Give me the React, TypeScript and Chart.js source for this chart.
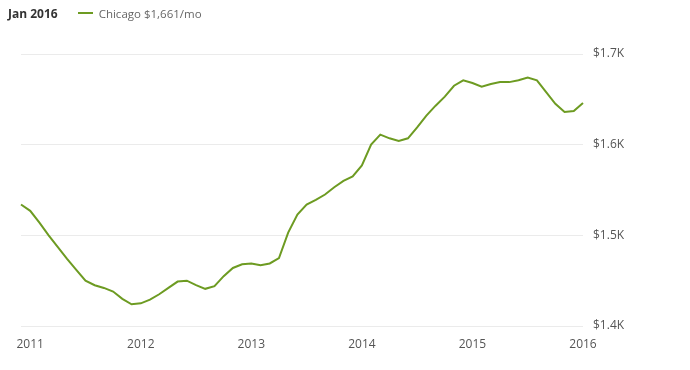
import React, { useEffect, useRef } from "react";
import { Chart, registerables } from "chart.js";

Chart.register(...registerables);

// Monthly median rent, Chicago, Dec 2010 .. Jan 2016 (USD)
const rentValues: number[] = [
  1534, 1527, 1514, 1500, 1487, 1474, 1462, 1450, 1445, 1442, 1438, 1430,
  1424, 1425, 1429, 1435, 1442, 1449, 1450, 1445, 1441, 1444, 1455, 1464,
  1468, 1469, 1467, 1469, 1475, 1503, 1523, 1534, 1539, 1545, 1553, 1560,
  1565, 1577, 1600, 1611, 1607, 1604, 1607, 1619, 1632, 1643, 1653, 1665,
  1671, 1668, 1664, 1667, 1669, 1669, 1671, 1674, 1671, 1658, 1645, 1636,
  1637, 1646,
];
const startYear = 2010;
const startMonth = 11; // December (0-based)
const monthLabels: string[] = rentValues.map((_, i) => {
  const m = (startMonth + i) % 12;
  const y = startYear + Math.floor((startMonth + i) / 12);
  return `${y}-${String(m + 1).padStart(2, "0")}`;
});
const yTicks: number[] = [1400, 1500, 1600, 1700];
const headerDate = "Jan 2016";
const seriesName = "Chicago";
const seriesLabel = "$1,661/mo";

const GREEN = "#6d9b22";
const FONT = "'Open Sans', 'Noto Sans', sans-serif";

export default function App() {
  const ref = useRef<HTMLCanvasElement | null>(null);

  useEffect(() => {
    document.body.style.margin = "0";
    const canvas = ref.current;
    if (!canvas) return;
    const chart = new Chart(canvas, {
      type: "line",
      data: {
        labels: monthLabels,
        datasets: [
          {
            label: seriesName,
            data: rentValues,
            borderColor: GREEN,
            backgroundColor: GREEN,
            borderWidth: 2,
            pointRadius: 0,
            tension: 0,
            fill: false,
            clip: false as any,
          },
        ],
      },
      options: {
        animation: false,
        responsive: false,
        maintainAspectRatio: false,
        layout: { padding: { top: 54, left: 21, right: 0, bottom: 0 } },
        plugins: {
          legend: { display: false },
          tooltip: { enabled: false },
        },
        scales: {
          x: {
            type: "category",
            offset: false,
            grid: { display: false, drawTicks: false },
            border: { display: false },
            afterFit: (s: any) => {
              s.height = 44;
            },
            ticks: {
              autoSkip: false,
              maxRotation: 0,
              minRotation: 0,
              padding: 11,
              color: "#555",
              font: { family: FONT, size: 12 },
              callback: (_v: any, i: number) => {
                const lab = monthLabels[i];
                return lab.endsWith("-01") ? lab.slice(0, 4) : "";
              },
            },
          },
          y: {
            position: "right",
            min: 1400,
            max: 1700,
            afterBuildTicks: (s: any) => {
              s.ticks = yTicks.map((v) => ({ value: v }));
            },
            afterFit: (s: any) => {
              s.width = 107;
            },
            grid: { color: "#ebebeb", drawTicks: false, lineWidth: 1 },
            border: { display: false },
            ticks: {
              padding: 10,
              color: "#555",
              font: { family: FONT, size: 12 },
              callback: (v: any) => `$${(Number(v) / 1000).toFixed(1)}K`,
            },
          },
        },
      },
    });
    return () => chart.destroy();
  }, []);

  return (
    <div style={{ position: "fixed", left: 0, top: 0, width: 690, height: 370, background: "#fff" }}>
      <canvas ref={ref} width={690} height={370} style={{ position: "absolute", left: 0, top: 0 }} />
      <div
        style={{
          position: "absolute",
          left: 8,
          top: 4,
          display: "flex",
          alignItems: "center",
          fontFamily: FONT,
          height: 18,
        }}
      >
        <span style={{ fontWeight: 700, color: "#333", fontSize: 12 }}>{headerDate}</span>
        <span style={{ display: "inline-block", width: 15, height: 2, background: GREEN, marginLeft: 20, marginRight: 6 }} />
        <span style={{ color: "#666", fontSize: 11.5 }}>
          {seriesName} {seriesLabel}
        </span>
      </div>
    </div>
  );
}
